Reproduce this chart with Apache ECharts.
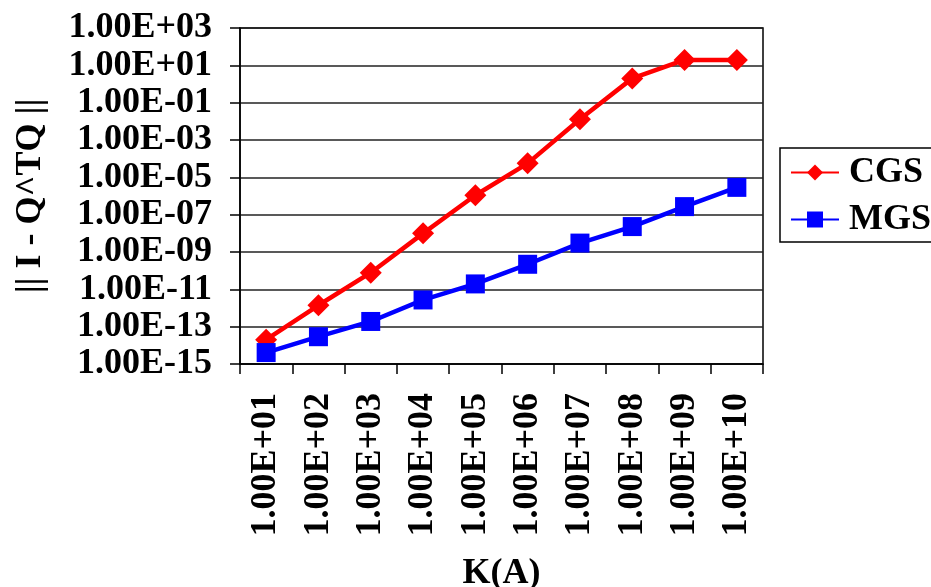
<!DOCTYPE html>
<html>
<head>
<meta charset="utf-8">
<script src="https://cdn.jsdelivr.net/npm/echarts@6/dist/echarts.min.js"></script>
<style>html,body{margin:0;padding:0;background:#fff;}#c{width:931px;height:587px;}</style>
</head>
<body>
<div id="c"></div>
<script>
var categories = ['1.00E+01','1.00E+02','1.00E+03','1.00E+04','1.00E+05','1.00E+06','1.00E+07','1.00E+08','1.00E+09','1.00E+10'];
var cgsValues = [2.0e-14, 1.4e-12, 7.8e-11, 1.0e-8, 1.1e-6, 5.6e-5, 1.3e-2, 2.0, 19.5, 19.5];
var mgsValues = [4.1e-15, 2.9e-14, 1.9e-13, 2.7e-12, 1.95e-11, 2.2e-10, 3.0e-9, 2.3e-8, 2.7e-7, 2.9e-6];
var yMinExp = -15, yMaxExp = 3, yStepExp = 2;

var FONT = 'Liberation Serif';
function toAxis(v){ return Math.log10(v) - yMinExp; }
function fmt(val){
  var e = Math.round(val + yMinExp);
  var s = Math.abs(e) < 10 ? '0' + Math.abs(e) : '' + Math.abs(e);
  return '1.00E' + (e >= 0 ? '+' : '-') + s;
}
var chart = echarts.init(document.getElementById('c'), null, {renderer:'canvas'});
chart.setOption({
  animation: false,
  backgroundColor: '#fff',
  grid: {left: 240, right: 168, top: 28, bottom: 223, containLabel: false, outerBoundsMode: 'none',
         show: true, borderColor: '#000', borderWidth: 1.5, backgroundColor: 'transparent'},
  legend: {
    left: 780, top: 148, orient: 'vertical',
    borderColor: '#000', borderWidth: 1.5,
    padding: [6, 60, 4, 10],
    itemWidth: 48, itemHeight: 20, itemGap: 10,
    textStyle: {fontFamily: FONT, fontWeight: 'bold', fontSize: 36, color: '#000', lineHeight: 37, padding: [0,0,0,5]},
    data: ['CGS', 'MGS']
  },
  xAxis: {
    type: 'category', data: categories, boundaryGap: true,
    name: 'K(A)', nameLocation: 'middle', nameGap: 192,
    nameTextStyle: {fontFamily: FONT, fontWeight: 'bold', fontSize: 36, color: '#000'},
    axisLine: {lineStyle: {color: '#000', width: 1.5}},
    axisTick: {show: true, inside: false, length: 10, lineStyle: {color: '#000', width: 1.5}},
    axisLabel: {rotate: 90, margin: 29, fontFamily: FONT, fontWeight: 'bold', fontSize: 36, color: '#000'},
    splitLine: {show: false}
  },
  yAxis: {
    type: 'value', min: 0, max: yMaxExp - yMinExp, interval: yStepExp,
    name: '|| I - Q^TQ ||', nameLocation: 'middle', nameGap: 191,
    nameTextStyle: {fontFamily: FONT, fontWeight: 'bold', fontSize: 36, color: '#000'},
    axisLine: {show: true, lineStyle: {color: '#000', width: 1.5}},
    axisTick: {show: true, inside: false, length: 10, lineStyle: {color: '#000', width: 1.5}},
    axisLabel: {margin: 28, formatter: fmt, fontFamily: FONT, fontWeight: 'bold', fontSize: 36, color: '#000'},
    splitLine: {show: true, lineStyle: {color: '#222', width: 1.5}}
  },
  series: [
    {name: 'CGS', type: 'line', data: cgsValues.map(toAxis), symbol: 'diamond', symbolSize: 22,
     itemStyle: {color: '#FF0000'}, lineStyle: {color: '#FF0000', width: 4.5}},
    {name: 'MGS', type: 'line', data: mgsValues.map(toAxis), symbol: 'rect', symbolSize: 19,
     itemStyle: {color: '#0000FF'}, lineStyle: {color: '#0000FF', width: 4.5}}
  ]
});
</script>
</body>
</html>
